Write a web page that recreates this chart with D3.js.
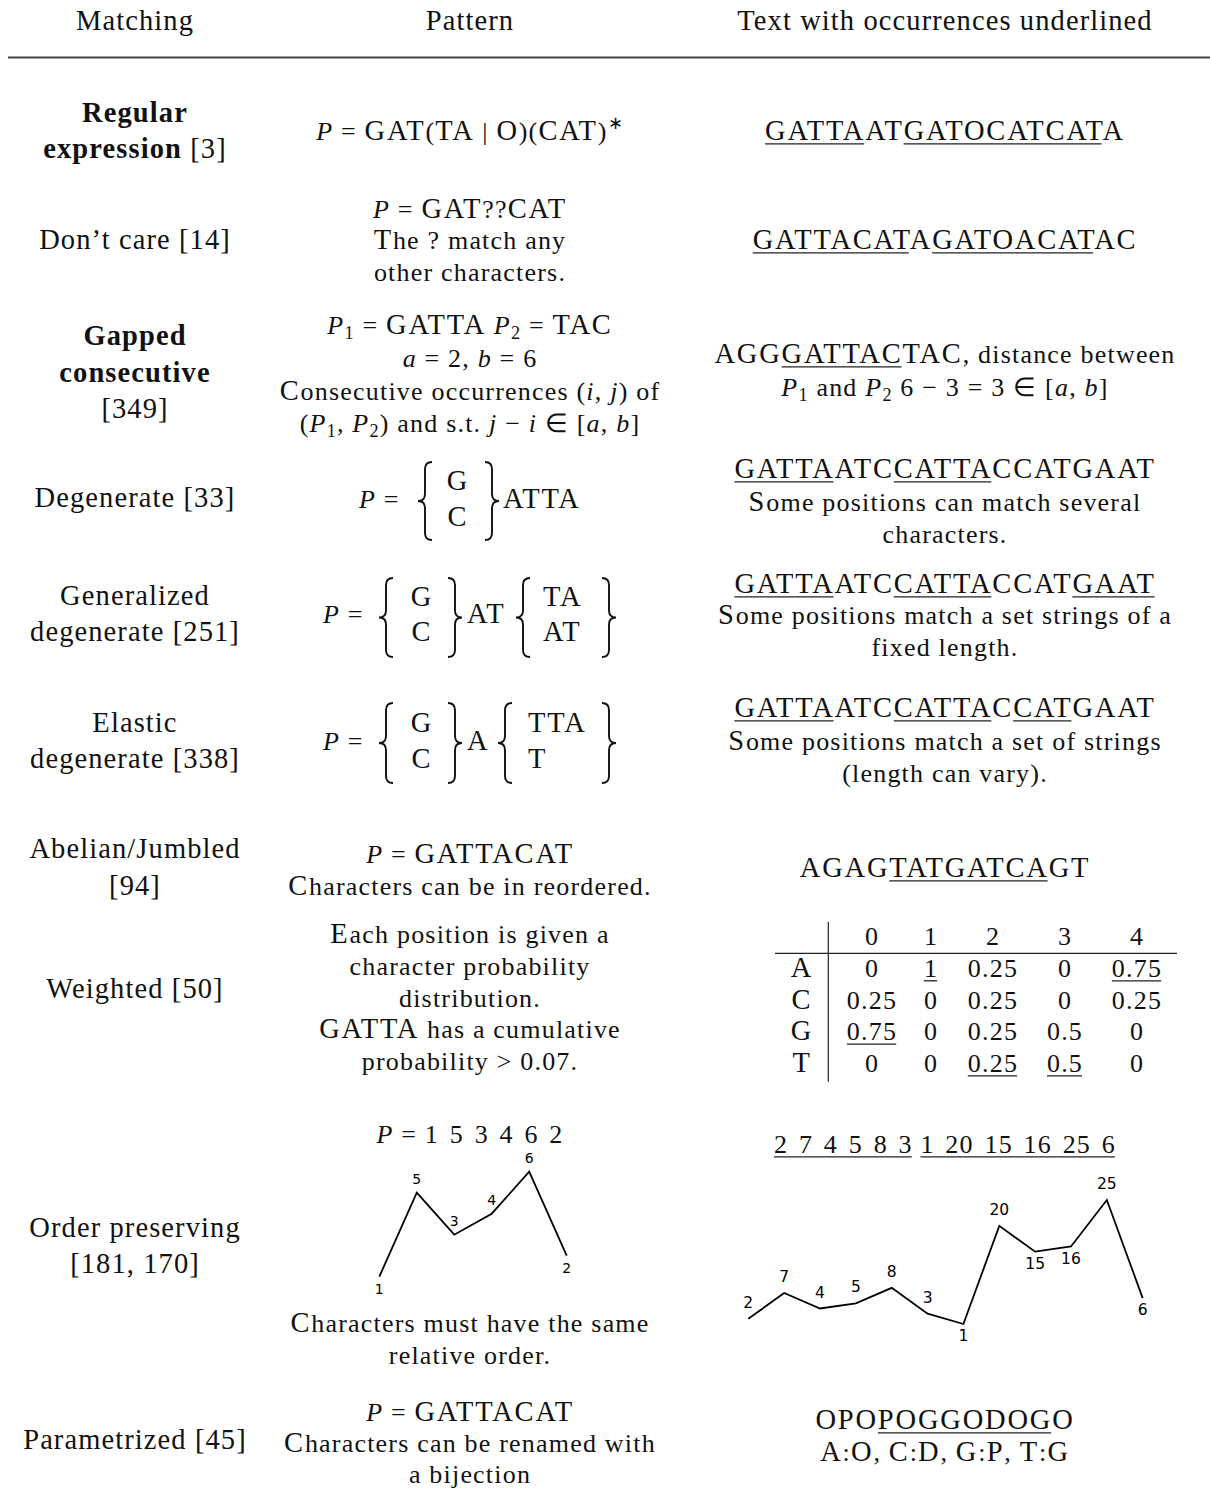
<!DOCTYPE html>
<html><head><meta charset="utf-8">
<script src="https://cdn.jsdelivr.net/npm/d3@7"></script>
<style>body{margin:0;background:#fff}svg{display:block}</style>
</head><body><div id="chart"></div>
<script>
// ================= DATA =================
const columnTitles = ["Matching", "Pattern", "Text with occurrences underlined"];

const matchingLabels = [
  ["{b:Regular}", "{b:expression} [3]"],
  ["Don’t care [14]"],
  ["{b:Gapped}", "{b:consecutive}", "[349]"],
  ["Degenerate [33]"],
  ["Generalized", "degenerate [251]"],
  ["Elastic", "degenerate [338]"],
  ["Abelian/Jumbled", "[94]"],
  ["Weighted [50]"],
  ["Order preserving", "[181, 170]"],
  ["Parametrized [45]"]
];

const patternTexts = [
  ["{i:P} = GAT(TA | O)(CAT){sup:∗}"],
  ["{i:P} = GAT??CAT", "The ? match any", "other characters."],
  ["{i:P}{sub:1} = GATTA {i:P}{sub:2} = TAC", "{i:a} = 2, {i:b} = 6",
   "Consecutive occurrences ({i:i}, {i:j}) of",
   "({i:P}{sub:1}, {i:P}{sub:2}) and s.t. {i:j} − {i:i} ∈ [{i:a}, {i:b}]"],
  [], [], [],
  ["{i:P} = GATTACAT", "Characters can be in reordered."],
  ["Each position is given a", "character probability", "distribution.",
   "GATTA has a cumulative", "probability > 0.07."],
  ["{i:P} = 1 5 3 4 6 2", "Characters must have the same", "relative order."],
  ["{i:P} = GATTACAT", "Characters can be renamed with", "a bijection"]
];

// degenerate patterns: first set, middle string, optional second set
const degenerateSetsA = [["G", "C"], ["G", "C"], ["G", "C"]];
const degenerateMiddle = ["ATTA", "AT", "A"];
const degenerateSetsB = [null, ["TA", "AT"], ["TTA", "T"]];

const textLines = [
  ["{u:GATTA}AT{u:GATOCATCAT}A"],
  ["{u:GATTACAT}A{u:GATOACAT}AC"],
  ["AGG{u:GATTAC}TAC, distance between",
   "{i:P}{sub:1} and {i:P}{sub:2} 6 − 3 = 3 ∈ [{i:a}, {i:b}]"],
  ["{u:GATTA}ATC{u:CATTA}CCATGAAT", "Some positions can match several", "characters."],
  ["{u:GATTA}ATC{u:CATTA}CCAT{u:GAAT}", "Some positions match a set strings of a", "fixed length."],
  ["{u:GATTA}ATC{u:CATTA}C{u:CAT}GAAT", "Some positions match a set of strings", "(length can vary)."],
  ["AGAG{u:TATGATCA}GT"],
  [],
  ["{u:2 7 4 5 8 3} {u:1 20 15 16 25 6}"],
  ["OPO{u:POGGODOG}O", "A:O, C:D, G:P, T:G"]
];

// weighted table
const weightPositions = ["0", "1", "2", "3", "4"];
const weightChars = ["A", "C", "G", "T"];
const weightValues = [
  [0, 1, 0.25, 0, 0.75],
  [0.25, 0, 0.25, 0, 0.25],
  [0.75, 0, 0.25, 0.5, 0],
  [0, 0, 0.25, 0.5, 0]
];
const weightUnderlined = [[0, 1], [0, 4], [2, 0], [3, 2], [3, 3]];

// order preserving series
const patternSeries = [1, 5, 3, 4, 6, 2];
const patternLabelSide = ["below", "above", "above", "above", "above", "below"];
const textSeries = [2, 7, 4, 5, 8, 3, 1, 20, 15, 16, 25, 6];
const textLabelSide = ["above", "above", "above", "above", "above", "above",
                       "below", "above", "below", "below", "above", "below"];

// ================= LAYOUT =================
const W = 1210, H = 1490;
const SERIF = "'Liberation Serif', 'Times New Roman', serif";
const STY_LEFT = {fs: 28.5, ls: 1.1, capsFs: 28.5, capsLs: 1.1, numWs: 0};
const STY_BODY = {fs: 26, ls: 1.2, capsFs: 28.5, capsLs: 1.8, numWs: 3};
const colX = [135, 470, 945];
const headerBaseline = 30;
const matchingBaselines = [[122,158],[249],[345,382,418],[507],[605,641],[732,768],[858,895],[998],[1237,1273],[1449]];
const patternBaselines = [[140],[218,249,281],[334,367,400,432],[],[],[],[863,895],[943,975,1007,1038,1070],[1143,1332,1364],[1421,1452,1483]];
const textBaselines = [[140],[249],[363,396],[478,511,543],[593,624,656],[717,750,782],[877],[],[1153],[1429,1461]];
const degLayout = [
  {px: 359, top: 462, bot: 540, base: 508, s1: [425, 492], s1c: 458, mid: 503, s2: null, s2x: 0, rows: [490, 526]},
  {px: 323, top: 578, bot: 657, base: 623, s1: [386, 455], s1c: 422, mid: 467, s2: [523, 609], s2x: 543, rows: [606, 641]},
  {px: 323, top: 703, bot: 783, base: 750, s1: [386, 455], s1c: 422, mid: 467, s2: [505, 609], s2x: 528, rows: [732, 768]}
];

const svg = d3.select("#chart").append("svg")
  .attr("width", W).attr("height", H).attr("viewBox", `0 0 ${W} ${H}`)
  .style("background", "#fff");

function richText(g, str, x, y, opts = {}) {
  const st = opts.style || STY_BODY;
  const fs = st.fs;
  const t = g.append("text")
    .attr("x", x).attr("y", y)
    .attr("text-anchor", opts.anchor || "middle")
    .attr("font-family", SERIF)
    .attr("font-size", fs)
    .style("letter-spacing", st.ls + "px")
    .style("white-space", "pre")
    .attr("fill", "#111");
  const re = /\{(i|b|sub|sup|u):([^}]*)\}/g;
  let last = 0, m, idx = 0, shift = 0;
  const ul = [];
  function span(txt, kind, extra) {
    const ts = t.append("tspan").text(txt);
    let target = 0;
    if (kind === "sub") target = 0.18 * fs;
    if (kind === "sup") target = -0.42 * fs;
    const dy = target - shift;
    if (dy) ts.attr("dy", dy);
    shift = target;
    if (kind === "i") ts.attr("font-style", "italic");
    if (kind === "b") ts.attr("font-weight", "bold");
    if (kind === "sub" || kind === "sup") ts.attr("font-size", fs * 0.7);
    if (extra === "caps") ts.attr("font-size", st.capsFs).style("letter-spacing", st.capsLs + "px");
    if (extra === "num") ts.style("word-spacing", st.numWs + "px");
  }
  function add(txt, kind) {
    if (!txt) return;
    if (kind === "u") ul.push([idx, idx + txt.length]);
    idx += txt.length;
    if (kind === "" || kind === "u") {
      const rr = /([A-Z]+)|(\d+(?: \d+)+)/g;
      let l2 = 0, mm;
      while ((mm = rr.exec(txt)) !== null) {
        if (mm.index > l2) span(txt.slice(l2, mm.index), kind);
        span(mm[0], kind, mm[1] ? "caps" : "num");
        l2 = rr.lastIndex;
      }
      if (l2 < txt.length) span(txt.slice(l2), kind);
    } else span(txt, kind);
  }
  while ((m = re.exec(str)) !== null) {
    add(str.slice(last, m.index), "");
    add(m[2], m[1]);
    last = re.lastIndex;
  }
  add(str.slice(last), "");
  const node = t.node();
  ul.forEach(([a, b]) => {
    const x0 = node.getStartPositionOfChar(a).x;
    const x1 = node.getEndPositionOfChar(b - 1).x - 1;
    g.append("line").attr("x1", x0).attr("x2", x1)
      .attr("y1", y + 3.8).attr("y2", y + 3.8)
      .attr("stroke", "#222").attr("stroke-width", 1.3);
  });
  return t;
}

const gText = svg.append("g");

// header
columnTitles.forEach((c, i) => richText(gText, c, colX[i], headerBaseline, {style: STY_LEFT}));
svg.append("line").attr("x1", 8).attr("x2", W).attr("y1", 57.5).attr("y2", 57.5)
  .attr("stroke", "#444").attr("stroke-width", 1.8);

// columns
matchingLabels.forEach((lines, r) => lines.forEach((s, k) =>
  richText(gText, s, colX[0], matchingBaselines[r][k], {style: STY_LEFT})));
patternTexts.forEach((lines, r) => lines.forEach((s, k) =>
  richText(gText, s, colX[1], patternBaselines[r][k])));
textLines.forEach((lines, r) => lines.forEach((s, k) =>
  richText(gText, s, colX[2], textBaselines[r][k])));

// braces
function bracePath(sx, y0, y1, dir) {
  const hw = 7 * dir, ym = (y0 + y1) / 2, v = 7;
  return `M${sx + hw},${y0} Q${sx},${y0} ${sx},${y0 + v} L${sx},${ym - v} ` +
         `Q${sx},${ym} ${sx - hw},${ym} Q${sx},${ym} ${sx},${ym + v} ` +
         `L${sx},${y1 - v} Q${sx},${y1} ${sx + hw},${y1}`;
}
const gBr = svg.append("g");
function brace(sx, L, dir) {
  gBr.append("path").attr("d", bracePath(sx, L.top, L.bot, dir))
    .attr("fill", "none").attr("stroke", "#111").attr("stroke-width", 1.9);
}
degLayout.forEach((L, r) => {
  richText(gBr, "{i:P} =", L.px, L.base, {anchor: "start"});
  brace(L.s1[0], L, 1);
  brace(L.s1[1], L, -1);
  degenerateSetsA[r].forEach((s, k) => richText(gBr, s, L.s1c, L.rows[k]));
  richText(gBr, degenerateMiddle[r], L.mid, L.base, {anchor: "start"});
  if (degenerateSetsB[r]) {
    brace(L.s2[0], L, 1);
    brace(L.s2[1], L, -1);
    degenerateSetsB[r].forEach((s, k) => richText(gBr, s, L.s2x, L.rows[k], {anchor: "start"}));
  }
});

// weighted table
const gT = svg.append("g");
const wx = d3.scaleOrdinal().domain(weightPositions).range([872, 931, 993, 1065, 1137]);
const wy = d3.scalePoint().domain(weightChars).range([977, 1072]);
const labelX = 802, headY = 945;
weightPositions.forEach(p => richText(gT, p, wx(p), headY));
weightChars.forEach((c, ri) => {
  richText(gT, c, labelX, wy(c));
  weightValues[ri].forEach((v, ci) => {
    const under = weightUnderlined.some(([a, b]) => a === ri && b === ci);
    const s = under ? `{u:${String(v)}}` : String(v);
    richText(gT, s, wx(weightPositions[ci]), wy(c));
  });
});
gT.append("line").attr("x1", 775).attr("x2", 1177).attr("y1", 953.3).attr("y2", 953.3)
  .attr("stroke", "#222").attr("stroke-width", 1.2);
gT.append("line").attr("x1", 828.3).attr("x2", 828.3).attr("y1", 921.7).attr("y2", 1081.7)
  .attr("stroke", "#222").attr("stroke-width", 1.2);

// order preserving charts
function drawSeries(series, sides, xRange, yDomain, yRange, fs, above) {
  const x = d3.scaleLinear().domain([0, series.length - 1]).range(xRange);
  const y = d3.scaleLinear().domain(yDomain).range(yRange);
  const g = svg.append("g");
  g.append("path").datum(series)
    .attr("d", d3.line().x((d, i) => x(i)).y(d => y(d)))
    .attr("fill", "none").attr("stroke", "#000").attr("stroke-width", 1.8)
    .attr("stroke-linejoin", "miter");
  g.selectAll("text").data(series).join("text")
    .attr("x", (d, i) => x(i))
    .attr("y", (d, i) => sides[i] === "above" ? y(d) - above : y(d) + 17)
    .attr("text-anchor", "middle")
    .attr("font-family", "'DejaVu Sans', sans-serif")
    .attr("font-size", fs).attr("fill", "#000")
    .text(d => d);
}
drawSeries(patternSeries, patternLabelSide, [379.3, 566.7], [1, 6], [1276.7, 1171.7], 14, 9);
drawSeries(textSeries, textLabelSide, [748.3, 1142.7], [1, 25], [1324, 1200], 15.5, 11);
</script>
</body></html>
